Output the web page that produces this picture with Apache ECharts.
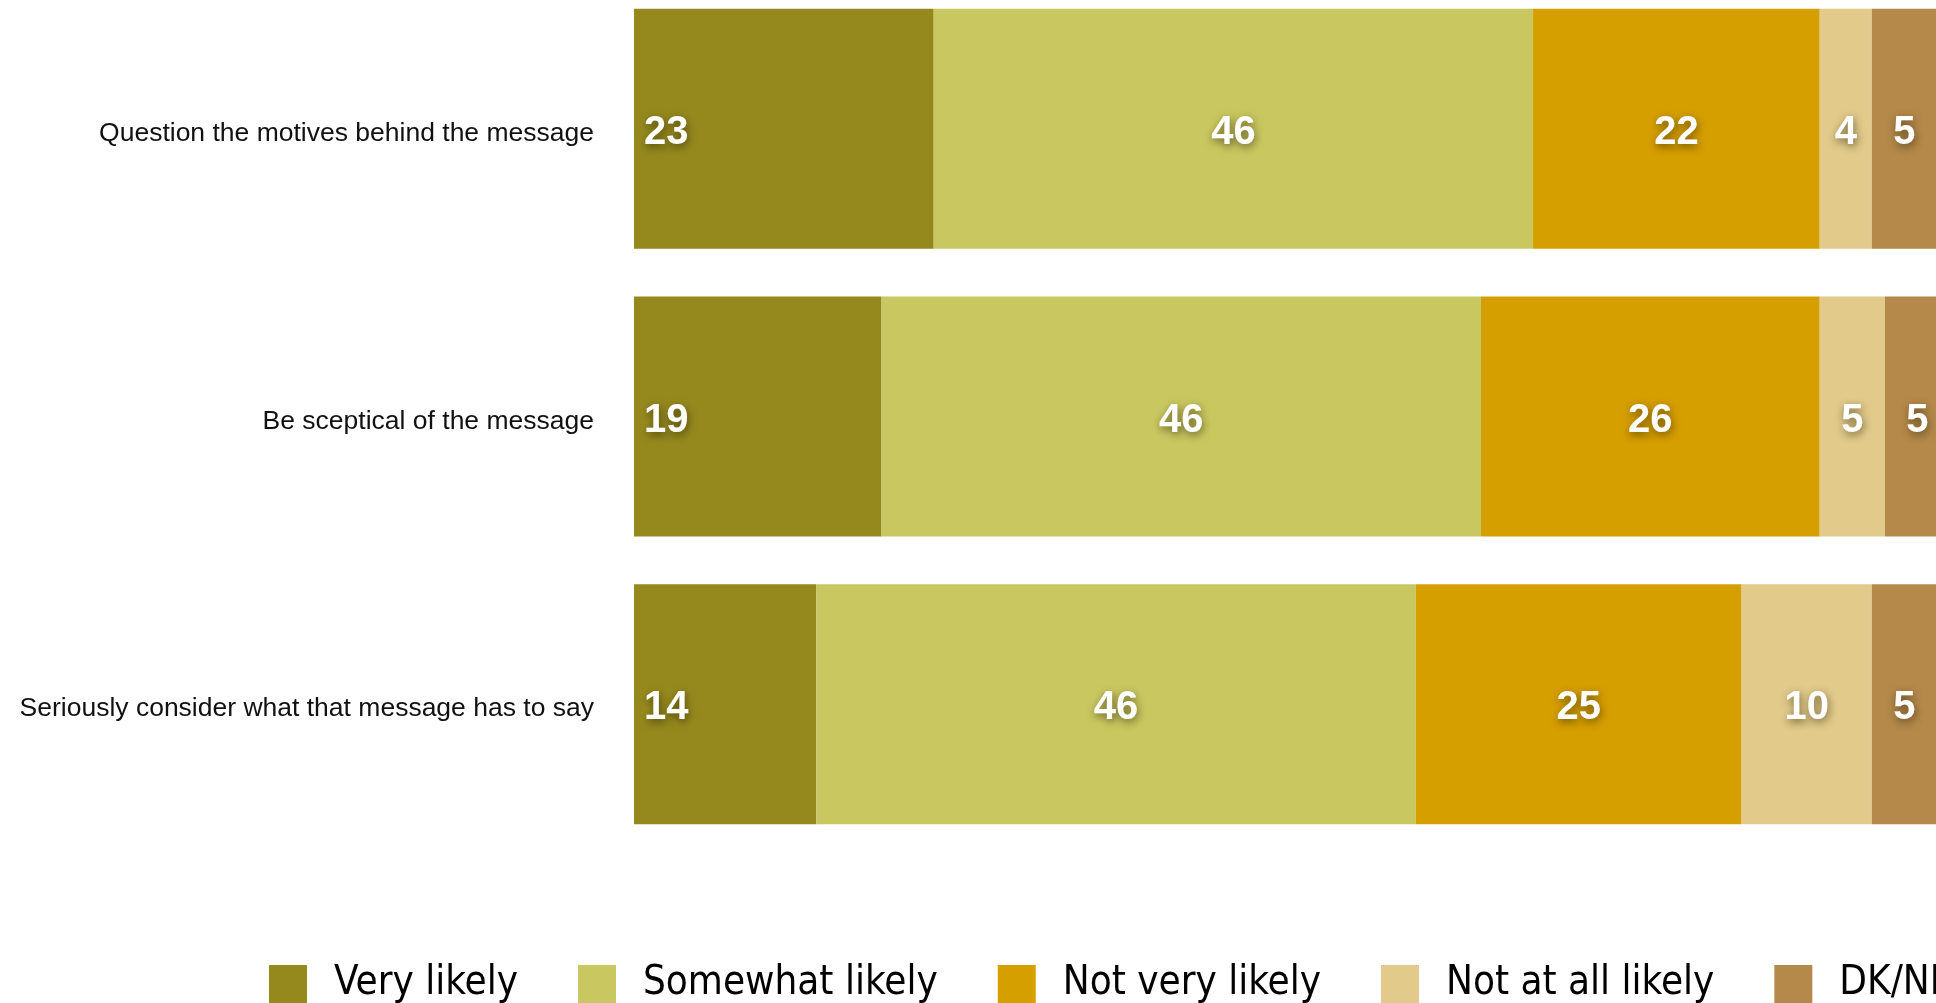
<!DOCTYPE html>
<html>
<head>
<meta charset="utf-8">
<script src="https://cdn.jsdelivr.net/npm/echarts@6/dist/echarts.min.js"></script>
<style>
  html, body { margin: 0; padding: 0; background: #ffffff; }
  #chart { width: 1936px; height: 1003px; }
</style>
</head>
<body>
<div id="chart"></div>
<script>
// Survey statements, top to bottom
const statements = [
  'Question the motives behind the message',
  'Be sceptical of the message',
  'Seriously consider what that message has to say'
];

// Response shares (%) per statement, same order as statements
const responseNames = ['Very likely', 'Somewhat likely', 'Not very likely', 'Not at all likely', 'DK/NR'];
const veryLikely = [23, 19, 14];
const somewhatLikely = [46, 46, 46];
const notVeryLikely = [22, 26, 25];
const notAtAllLikely = [4, 5, 10];
const dkNr = [5, 5, 5];

const responseValues = [veryLikely, somewhatLikely, notVeryLikely, notAtAllLikely, dkNr];
const responseColors = ['#95891e', '#c9c860', '#d69f00', '#e1ca8a', '#b5894a'];

const chart = echarts.init(document.getElementById('chart'), null, { renderer: 'canvas' });

const labelStyle = {
  show: true,
  color: '#ffffff',
  fontFamily: 'Liberation Sans, Arial, Helvetica, sans-serif',
  fontWeight: 'bold',
  fontSize: 40,
  offset: [0, 4],
  textShadowColor: 'rgba(40, 30, 0, 0.6)',
  textShadowBlur: 8,
  textShadowOffsetX: 1,
  textShadowOffsetY: 3
};

const series = responseNames.map((name, i) => ({
  name: name,
  type: 'bar',
  stack: 'total',
  barWidth: 240,
  clip: false,
  itemStyle: { color: responseColors[i] },
  label: Object.assign({}, labelStyle, i === 0
    ? { position: 'insideLeft', distance: 10 }
    : { position: 'inside' }),
  emphasis: { disabled: true },
  data: responseValues[i]
}));

chart.setOption({
  backgroundColor: '#ffffff',
  animation: false,
  grid: {
    left: 634,
    top: -15,
    width: 1303,
    height: 863,
    containLabel: false,
    outerBoundsMode: 'none'
  },
  xAxis: {
    type: 'value',
    min: 0,
    max: 100,
    show: false
  },
  yAxis: {
    type: 'category',
    data: statements,
    inverse: true,
    axisLine: { show: false },
    axisTick: { show: false },
    splitLine: { show: false },
    axisLabel: {
      margin: 40,
      formatter: '{stmt|{value}}',
      rich: {
        stmt: {
          color: '#111111',
          fontFamily: 'Liberation Sans, Arial, Helvetica, sans-serif',
          fontSize: 26.5,
          padding: [10, 0, 0, 0]
        }
      }
    }
  },
  legend: {
    left: 269,
    top: 964,
    width: 3000,
    padding: 0,
    itemWidth: 38,
    itemHeight: 38,
    itemGap: 60,
    icon: 'rect',
    selectedMode: false,
    data: responseNames,
    textStyle: {
      color: '#000000',
      fontFamily: 'DejaVu Sans Condensed, DejaVu Sans, sans-serif',
      fontSize: 40,
      padding: [0, 0, 0, 22]
    }
  },
  series: series
});
</script>
</body>
</html>
